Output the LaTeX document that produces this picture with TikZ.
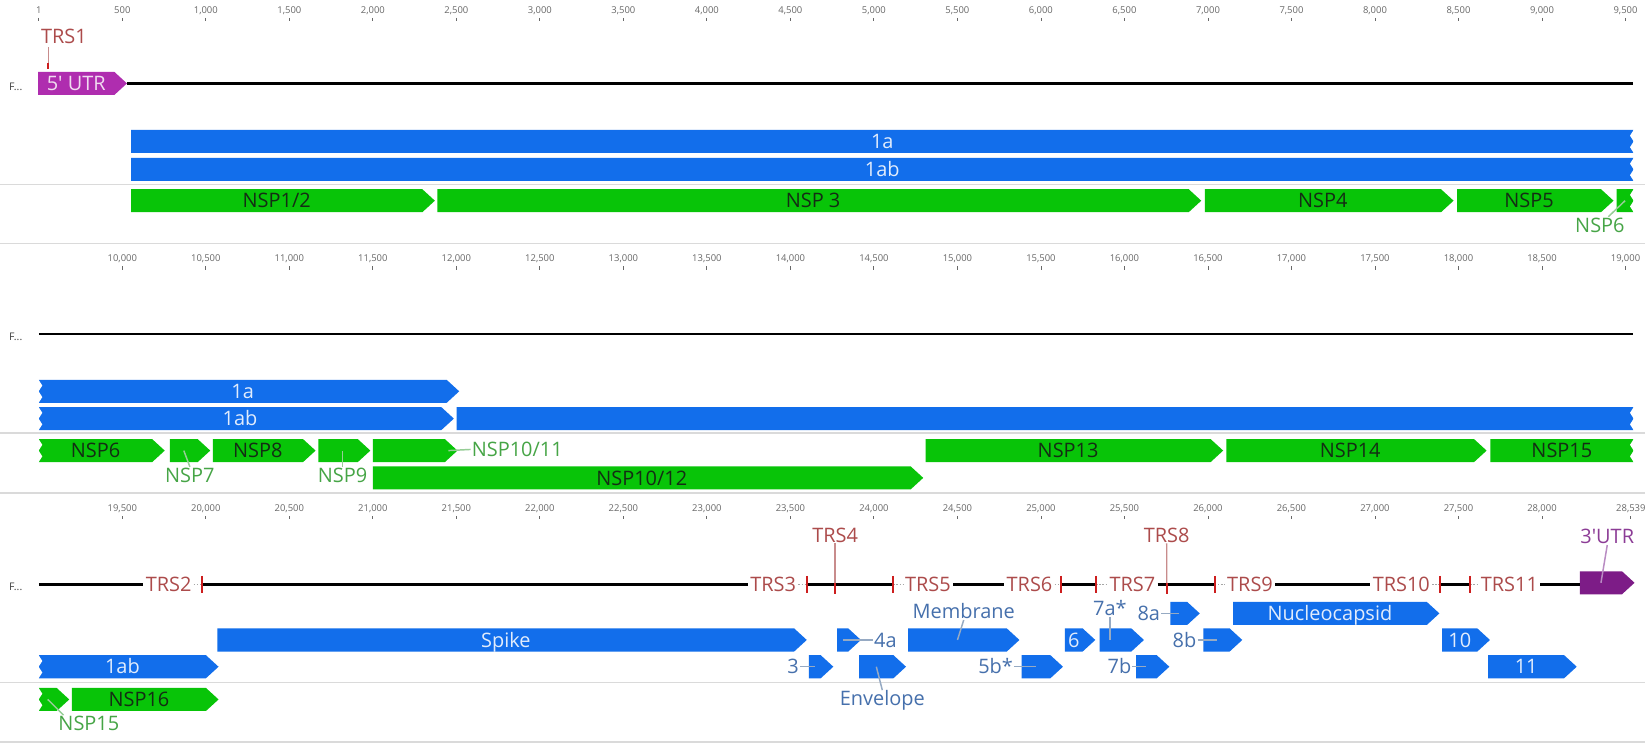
\documentclass[tikz,border=0pt]{standalone}
\usepackage{fontspec}
\setmainfont{Open Sans}
\usetikzlibrary{shapes.symbols,calc}

\definecolor{orfblue}{RGB}{18,110,235}
\definecolor{orftext}{RGB}{225,236,252}
\definecolor{nspgreen}{RGB}{8,196,8}
\definecolor{nsptext}{RGB}{20,45,20}
\definecolor{utrfivec}{RGB}{175,45,175}
\definecolor{utrtext}{RGB}{240,220,240}
\definecolor{utrthreec}{RGB}{125,28,135}
\definecolor{utrlabc}{RGB}{140,60,150}
\definecolor{utrleadc}{RGB}{185,140,195}
\definecolor{orflabc}{RGB}{70,112,172}
\definecolor{orfleadc}{RGB}{150,170,195}
\definecolor{nsplabc}{RGB}{70,165,70}
\definecolor{nspleadc}{RGB}{150,205,150}
\definecolor{trsc}{RGB}{172,75,75}
\definecolor{trslinec}{RGB}{200,140,140}
\definecolor{trstickc}{RGB}{205,30,30}
\definecolor{sepc}{RGB}{218,218,218}
\definecolor{rulerc}{RGB}{105,105,105}

\newcommand{\fsz}[1]{\fontsize{#1}{#1}\selectfont}
% feature box: [style]{name}{x start}{x end}{y centre}{text}
\newcommand{\feat}[6][]{\node[#1, minimum width={(#4-#3)*1pt}] (#2) at ({(#3+#4)/2},#5) {#6};}
% truncated ends
\newcommand{\cutR}[1]{\fill[white] ($(#1.east)+(1.5,-12)$) -- ($(#1.east)+(0,-11)$) -- ($(#1.east)+(-3.5,-5.5)$) -- (#1.east) -- ($(#1.east)+(-3.5,5.5)$) -- ($(#1.east)+(0,11)$) -- ($(#1.east)+(1.5,12)$) -- cycle;}
\newcommand{\cutL}[1]{\fill[white] ($(#1.west)+(-1.5,-12)$) -- ($(#1.west)+(0,-11)$) -- ($(#1.west)+(3.5,-5.5)$) -- (#1.west) -- ($(#1.west)+(3.5,5.5)$) -- ($(#1.west)+(0,11)$) -- ($(#1.west)+(-1.5,12)$) -- cycle;}
\pgfkeys{/pgf/number format/.cd, 1000 sep={,}, assume math mode=true}

\begin{document}
\begin{tikzpicture}[x=1pt, y=-1pt,
  orf/.style={signal, signal to=east, signal pointer angle=85, fill=orfblue, text=orftext,
    inner sep=0pt, minimum height=22pt, text height=13.6pt, text depth=0pt, font=\fsz{19},
    xshift=-6pt},
  nsp/.style={orf, fill=nspgreen, text=nsptext},
  utr/.style={orf, fill=utrfivec, text=utrtext},
  flat/.style={signal to=nowhere, xshift=6pt},
  orflab/.style={text=orflabc, font=\fsz{19}, inner sep=1pt, text height=13.6pt, text depth=0pt},
  nsplab/.style={orflab, text=nsplabc},
  trs/.style={orflab, text=trsc, inner xsep=2pt},
  lead/.style={line width=1.4pt, draw=orfleadc},
  nsplead/.style={lead, draw=nspleadc},
  utrlead/.style={lead, draw=utrleadc},
  trsline/.style={line width=1.2pt, draw=trslinec},
  trstick/.style={line width=2pt, draw=trstickc},
  trsdot/.style={line width=1pt, draw=black!35, dash pattern=on 1.5pt off 1.5pt},
  track/.style={line width=2.6pt, draw=black},
  rowsep/.style={line width=1.6pt, draw=sepc},
  ruler/.style={text=rulerc, font=\fsz{9}, inner sep=0pt},
  rtick/.style={line width=0.8pt, draw=rulerc},
  rowlab/.style={text=black!75, font=\fsz{10}, inner sep=0pt}
]
\path[use as bounding box, fill=white] (0,0) rectangle (1568,710);

% rulers
\node[ruler] (ra0) at (37,10) {1};
\draw[rtick] (37,17) -- (37,20);
\foreach \i in {1,...,19} {
  \pgfmathtruncatemacro\bp{500*\i}
  \node[ruler] (ra\i) at ({37+79.6*\i},10) {\pgfmathprintnumber{\bp}};
  \draw[rtick] ({37+79.6*\i},17) -- ({37+79.6*\i},20);
}
\foreach \i in {1,...,19} {
  \edef\bp{\the\numexpr9500+500*\i\relax}
  \node[ruler] (rb\i) at ({37+79.6*\i},247) {\pgfmathprintnumber{\bp}};
  \draw[rtick] ({37+79.6*\i},254) -- ({37+79.6*\i},257);
}
\foreach \i in {1,...,18} {
  \edef\bp{\the\numexpr19000+500*\i\relax}
  \node[ruler] (rc\i) at ({37+79.6*\i},485) {\pgfmathprintnumber{\bp}};
  \draw[rtick] ({37+79.6*\i},492) -- ({37+79.6*\i},495);
}
\node[ruler] (rcend) at (1554.5,485) {28,539};
\draw[rtick] (1554.5,492) -- (1554.5,495);

% separators
\foreach \y in {176,232,413,470,650.5,707}
  \draw[rowsep] (0,\y) -- (1568,\y);

% row 1
\node[rowlab] (fa) at (15,82.7) {F...};
\feat[utr]{utrfive}{36.3}{121}{79.5}{5\textquotesingle\ UTR}
\coordinate (enda) at (1557,79.5);
\draw[track] (utrfive.east) -- (enda);
\node[trs] (trsone) at (61,35) {TRS1};
\coordinate (tone) at (46,63);
\draw[trsline] ([yshift=-2pt]trsone.south -| tone) -- (tone);
\draw[trstick] ([yshift=3pt]tone) -- ([yshift=-3pt]tone);
\feat[orf, flat]{orfaa}{125}{1557}{134.8}{1a}
\feat[orf, flat]{orfaba}{125}{1557}{161.5}{1ab}
\feat[nsp]{nspone}{125}{414.5}{191.3}{NSP1/2}
\feat[nsp]{nspthree}{417}{1145}{191.3}{NSP 3}
\feat[nsp]{nspfour}{1148.4}{1385.5}{191.3}{NSP4}
\feat[nsp]{nspfive}{1389}{1538}{191.3}{NSP5}
\feat[nsp, flat]{nspsixa}{1541}{1557}{191.3}{}
\cutR{orfaa}
\cutR{orfaba}
\cutR{nspsixa}
\node[nsplab] (nspsixaL) at (1525,214.6) {NSP6};
\draw[nsplead] ([xshift=8pt]nspsixaL.north) -- (nspsixa.center);

% row 2
\node[rowlab] (fb) at (15,321) {F...};
\coordinate (startb) at (37,318.4);
\coordinate (endb) at (1557,318.4);
\draw[track] (startb) -- (endb);
\feat[orf]{orfab}{37}{437.7}{373}{1a}
\feat[orf]{orfabb}{37}{432.6}{399}{1ab}
\feat[orf, flat]{orfabc}{435.3}{1557}{399}{}
\feat[nsp]{nspsixb}{37}{157}{429.5}{NSP6}
\feat[nsp]{nspseven}{162}{200.4}{429.5}{}
\feat[nsp]{nspeight}{202.8}{300.8}{429.5}{NSP8}
\feat[nsp]{nspnine}{303.5}{353}{429.5}{}
\feat[nsp]{nspten}{355.5}{436}{429.5}{}
\feat[nsp]{nsptwelve}{355.5}{880}{455.5}{NSP10/12}
\feat[nsp]{nspthirteen}{882.3}{1165.9}{429.5}{NSP13}
\feat[nsp]{nspfourteen}{1168.9}{1417}{429.5}{NSP14}
\feat[nsp, flat]{nspfifteen}{1420.5}{1557}{429.5}{NSP15}
\cutL{orfab}
\cutL{orfabb}
\cutR{orfabc}
\cutL{nspsixb}
\cutR{nspfifteen}
\node[nsplab] (nspsevenL) at (181,453) {NSP7};
\draw[nsplead] (nspseven.center) -- (nspsevenL.north);
\node[nsplab] (nspnineL) at (326.6,453) {NSP9};
\draw[nsplead] (nspnineL.north) -- (nspnineL.north |- nspnine.center);
\node[nsplab, anchor=west] (nsptenL) at (448.5,428.4) {NSP10/11};
\draw[nsplead] ([xshift=-9pt]nspten.east) -- (nsptenL.west);

% row 3
\node[rowlab] (fc) at (15,559) {F...};
\coordinate (startc) at (37,557);
\node[trs] (trstwo) at (160.7,557) {TRS2};
\node[trs] (trsthree) at (737,557) {TRS3};
\node[trs] (trsfour) at (796,510) {TRS4};
\node[trs] (trsfive) at (884.5,557) {TRS5};
\node[trs] (trssix) at (981.3,557) {TRS6};
\node[trs] (trsseven) at (1079.4,557) {TRS7};
\node[trs] (trseight) at (1112,510) {TRS8};
\node[trs] (trsnine) at (1191.5,557) {TRS9};
\node[trs] (trsten) at (1335.7,557) {TRS10};
\node[trs] (trseleven) at (1438.7,557) {TRS11};
\coordinate (ttwo) at (192.9,557);
\coordinate (tthree) at (769,557);
\coordinate (tfour) at (796,557);
\coordinate (tfive) at (851.4,557);
\coordinate (tsix) at (1011.6,557);
\coordinate (tseven) at (1044.8,557);
\coordinate (teight) at (1112.3,557);
\coordinate (tnine) at (1157.8,557);
\coordinate (tten) at (1372.7,557);
\coordinate (televen) at (1401.5,557);
\feat[utr, fill=utrthreec]{utrthree}{1506}{1558}{555.5}{}
\draw[track] (startc) -- (trstwo.west);
\draw[track] (ttwo) -- (trsthree.west);
\draw[track] (tthree) -- (tfive);
\draw[track] (trsfive.east) -- (trssix.west);
\draw[track] (tsix) -- (tseven);
\draw[track] (trsseven.east) -- (tnine);
\draw[track] (trsnine.east) -- (trsten.west);
\draw[track] (tten) -- (televen);
\draw[track] (trseleven.east) -- (trseleven.east -| utrthree.west);
\draw[trsdot] (trstwo.east) -- (ttwo);
\draw[trsdot] (trsthree.east) -- (tthree);
\draw[trsdot] (tfive) -- (trsfive.west);
\draw[trsdot] (trssix.east) -- (tsix);
\draw[trsdot] (tseven) -- (trsseven.west);
\draw[trsdot] (tnine) -- (trsnine.west);
\draw[trsdot] (trsten.east) -- (tten);
\draw[trsdot] (televen) -- (trseleven.west);
\foreach \t in {ttwo,tthree,tfive,tsix,tseven,tnine,tten,televen}
  \draw[trstick] ([yshift=8pt]\t) -- ([yshift=-8pt]\t);
\draw[trsline] (trsfour.south) -- ([yshift=-9pt]tfour);
\draw[trsline] (trseight.south) -- ([yshift=-9pt]teight);
\draw[trstick] ([yshift=1pt]tfour) -- ([yshift=-9pt]tfour);
\draw[trstick] ([yshift=1pt]teight) -- ([yshift=-9pt]teight);
\node[orflab, text=utrlabc] (utrthreeL) at (1532,511.5) {3\textquotesingle UTR};
\draw[utrlead] (utrthreeL.south) -- (utrthree.center);

\feat[orf]{orfabd}{37}{208.3}{635.5}{1ab}
\feat[orf]{spike}{207.3}{769}{610}{Spike}
\feat[nsp]{nspfifteenb}{37}{66}{666.7}{}
\feat[nsp]{nspsixteen}{68.6}{208.3}{666.7}{NSP16}
\cutL{orfabd}
\cutL{nspfifteenb}
\node[nsplab] (nspfifteenbL) at (84.7,689.6) {NSP15};
\draw[nsplead] (nspfifteenb.center) -- ([xshift=6pt]nspfifteenbL.north west);

\feat[orf]{orfthree}{771}{794.3}{635.5}{}
\feat[orf]{orffoura}{798}{820.6}{610}{}
\feat[orf]{envelope}{819}{863.6}{635.5}{}
\feat[orf]{membrane}{865.6}{971.7}{610}{}
\feat[orf]{orffiveb}{973.7}{1013.2}{635.5}{}
\feat[orf]{orfsix}{1015}{1044}{610}{6}
\feat[orf]{orfsevena}{1048.2}{1090.4}{610}{}
\feat[orf]{orfsevenb}{1083}{1114.6}{635.5}{}
\feat[orf]{orfeighta}{1115.6}{1143.6}{584.7}{}
\feat[orf]{orfeightb}{1147}{1184.1}{610}{}
\feat[orf]{nucleo}{1175.4}{1372}{584.7}{Nucleocapsid}
\feat[orf]{orften}{1374.7}{1420.2}{610}{10}
\feat[orf]{orfeleven}{1418.5}{1502.9}{635.5}{11}

\node[orflab] (orfthreeL) at (756,635.5) {3};
\draw[lead] (orfthreeL.east) -- (orfthree.center);
\node[orflab] (orffouraL) at (844,610) {4a};
\draw[lead] (orffoura.center) -- (orffouraL.west);
\node[orflab] (envelopeL) at (841,665.8) {Envelope};
\draw[lead] (envelope.center) -- (envelopeL.north);
\node[orflab] (membraneL) at (918.6,583) {Membrane};
\draw[lead] (membraneL.south) -- (membrane.center);
\node[orflab] (orffivebL) at (949,635.5) {5b*};
\draw[lead] (orffivebL.east) -- (orffiveb.center);
\node[orflab] (orfsevenaL) at (1058,580) {7a*};
\draw[lead] (orfsevenaL.south) -- (orfsevenaL.south |- orfsevena.center);
\node[orflab] (orfsevenbL) at (1067,635.5) {7b};
\draw[lead] (orfsevenbL.east) -- (orfsevenb.center);
\node[orflab] (orfeightaL) at (1095,584.7) {8a};
\draw[lead] (orfeightaL.east) -- (orfeighta.center);
\node[orflab] (orfeightbL) at (1129,610) {8b};
\draw[lead] (orfeightbL.east) -- (orfeightb.center);
\end{tikzpicture}
\end{document}
